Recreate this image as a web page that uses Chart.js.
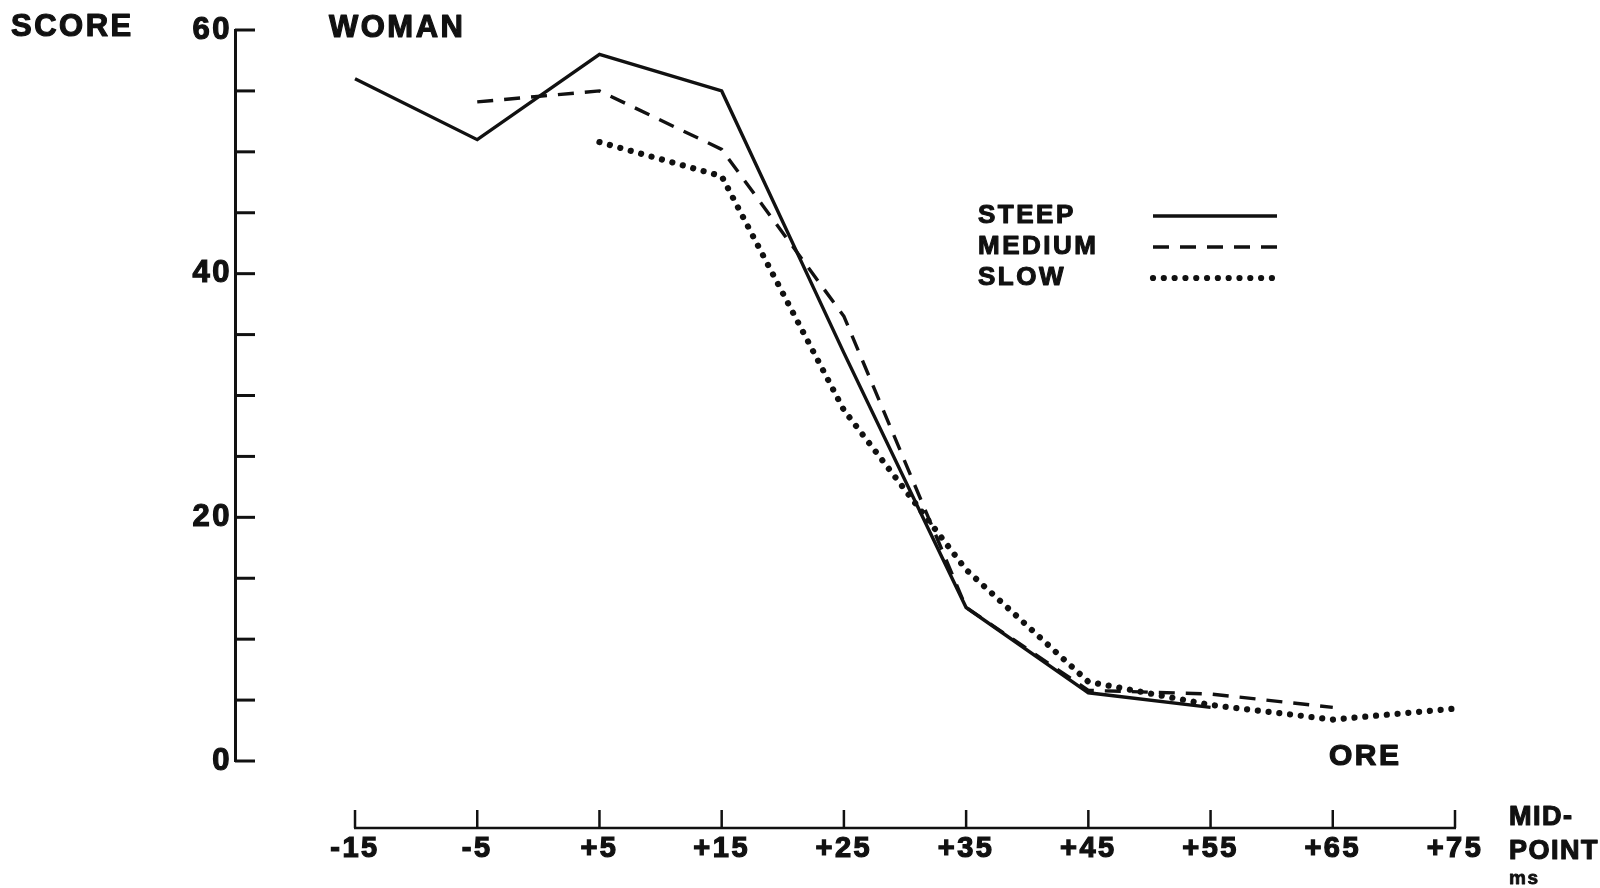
<!DOCTYPE html>
<html><head><meta charset="utf-8">
<script src="https://cdn.jsdelivr.net/npm/chart.js@4.4.0/dist/chart.umd.min.js"></script>
<style>html,body{margin:0;padding:0;background:#fff;overflow:hidden}#wrap{width:1600px;height:888px;position:relative}</style>
</head><body><div id="wrap"><canvas id="c"></canvas></div>
<script>
// ---- data ----
const midpoints = [-15, -5, 5, 15, 25, 35, 45, 55, 65, 75];
const steep  = [56.0, 51.0, 58.0, 55.0, 33.5, 12.6, 5.6, 4.4, null, null];
const medium = [null, 54.1, 55.0, 50.2, 36.5, 12.6, 5.8, 5.5, 4.4, null];
const slow   = [null, null, 50.8, 48.0, 28.8, 15.7, 6.5, 4.6, 3.4, 4.3];
const seriesNames = ['STEEP', 'MEDIUM', 'SLOW'];
const yMin = 0, yMax = 60, yTickStep = 5, yLabelEvery = 20;
const yTitle = 'SCORE';
const topWord = 'WOMAN';
const bottomWord = 'ORE';
const xTitleLines = ['MID-', 'POINT'];
const xUnit = 'ms';

const FAMILY = '"Liberation Sans", Arial, Helvetica, sans-serif';
const INK = '#111';

function pts(arr) { return midpoints.map((x, i) => ({ x: x, y: arr[i] })); }

function boldText(ctx, s, x, y) {
  ctx.fillText(s, x, y);
  ctx.strokeText(s, x, y);
}

const decor = {
  id: 'decor',
  beforeDraw(chart) {
    const ctx = chart.ctx;
    ctx.save();
    ctx.fillStyle = '#fff';
    ctx.fillRect(0, 0, chart.width, chart.height);
    ctx.restore();
    ctx.letterSpacing = '2.5px';
  },
  afterDraw(chart) {
    const ctx = chart.ctx;
    const xs = chart.scales.x, ys = chart.scales.y;
    const ca = chart.chartArea;
    ctx.save();
    ctx.strokeStyle = INK; ctx.fillStyle = INK;
    ctx.lineCap = 'butt';
    // inward y tick marks
    ctx.lineWidth = 3;
    ys.ticks.forEach(t => {
      const py = ys.getPixelForValue(t.value);
      ctx.beginPath(); ctx.moveTo(ca.left, py); ctx.lineTo(ca.left + 20, py); ctx.stroke();
    });
    // detached x axis
    const axisY = 828;
    const x0 = xs.getPixelForValue(midpoints[0]);
    const x1 = xs.getPixelForValue(midpoints[midpoints.length - 1]);
    ctx.lineWidth = 2.5;
    ctx.beginPath(); ctx.moveTo(x0 - 1, axisY); ctx.lineTo(x1 + 1, axisY); ctx.stroke();
    midpoints.forEach(v => {
      const px = xs.getPixelForValue(v);
      ctx.beginPath(); ctx.moveTo(px, axisY); ctx.lineTo(px, axisY - 18); ctx.stroke();
    });
    // text labels
    ctx.lineWidth = 1.2;
    ctx.lineJoin = 'round';
    ctx.letterSpacing = '2.5px';
    ctx.textBaseline = 'middle';
    ctx.textAlign = 'left';
    ctx.font = 'bold 31px ' + FAMILY;
    boldText(ctx, yTitle, 11, 27);
    boldText(ctx, topWord, 329, 28);
    ctx.font = 'bold 30px ' + FAMILY;
    boldText(ctx, bottomWord, 1329, 757);
    ctx.letterSpacing = '1.5px';
    ctx.font = 'bold 27px ' + FAMILY;
    boldText(ctx, xTitleLines[0], 1509, 818);
    boldText(ctx, xTitleLines[1], 1509, 852);
    ctx.lineWidth = 0.8;
    ctx.font = 'bold 19px ' + FAMILY;
    boldText(ctx, xUnit, 1509, 879);
    // legend
    ctx.lineWidth = 1.1;
    ctx.letterSpacing = '2.5px';
    ctx.font = 'bold 26px ' + FAMILY;
    chart.data.datasets.forEach((ds, i) => {
      const ly = 216 + 31 * i;
      boldText(ctx, ds.label, 978, ly);
      ctx.save();
      ctx.strokeStyle = ds.borderColor;
      ctx.lineWidth = ds.borderWidth;
      ctx.lineCap = ds.borderCapStyle || 'butt';
      ctx.setLineDash(ds.borderDash || []);
      ctx.beginPath(); ctx.moveTo(1153, ly); ctx.lineTo(1277, ly); ctx.stroke();
      ctx.restore();
    });
    ctx.restore();
  }
};

new Chart(document.getElementById('c'), {
  type: 'line',
  data: {
    datasets: [
      { label: seriesNames[0], data: pts(steep), borderColor: INK, borderWidth: 3.4, pointRadius: 0, tension: 0, borderJoinStyle: 'miter' },
      { label: seriesNames[1], data: pts(medium), borderColor: INK, borderWidth: 3.4, borderDash: [16, 11], pointRadius: 0, tension: 0 },
      { label: seriesNames[2], data: pts(slow), borderColor: INK, borderWidth: 6.2, borderDash: [0.01, 10.8], borderCapStyle: 'round', pointRadius: 0, tension: 0 }
    ]
  },
  options: {
    responsive: true,
    maintainAspectRatio: false,
    animation: false,
    events: [],
    layout: { padding: { top: 30, right: 145, left: 0, bottom: 0 } },
    plugins: { legend: { display: false }, tooltip: { enabled: false } },
    scales: {
      x: {
        type: 'linear',
        min: -24.82, max: 75,
        afterBuildTicks: s => { s.ticks = midpoints.map(v => ({ value: v })); },
        afterFit: s => { s.height = 127; },
        grid: { display: false, drawTicks: false },
        border: { display: false },
        ticks: {
          padding: 71, color: INK, maxRotation: 0, autoSkip: false,
          textStrokeColor: INK, textStrokeWidth: 1.2,
          font: { family: FAMILY, size: 29, weight: 'bold' },
          callback: v => (v > 0 ? '+' + v : String(v))
        }
      },
      y: {
        type: 'linear',
        min: yMin, max: yMax,
        afterFit: s => { s.width = 235; },
        grid: { display: false, drawTicks: false },
        border: { display: true, color: INK, width: 3 },
        ticks: {
          stepSize: yTickStep, padding: 3, color: INK, autoSkip: false,
          textStrokeColor: INK, textStrokeWidth: 1.2,
          font: { family: FAMILY, size: 31, weight: 'bold' },
          callback: v => (v % yLabelEvery === 0 ? String(v) : '')
        }
      }
    }
  },
  plugins: [decor]
});
</script>
</body></html>
